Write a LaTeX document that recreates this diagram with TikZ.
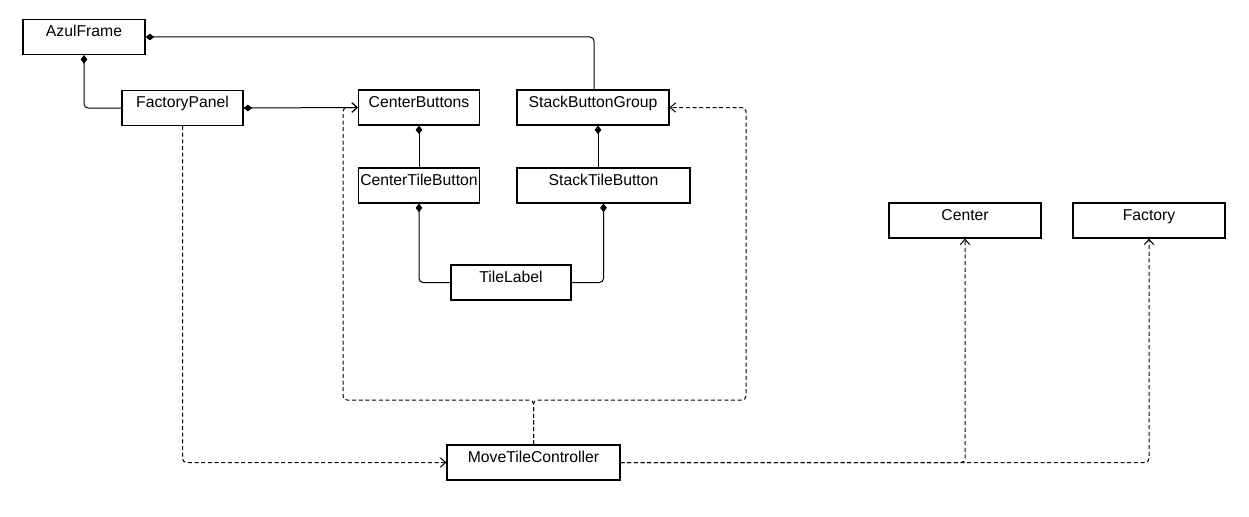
\documentclass[tikz,border=0pt]{standalone}
\usepackage{fontspec}
\setmainfont{Liberation Sans}
\usetikzlibrary{arrows.meta}

\begin{document}
\begin{tikzpicture}
  [x=0.75pt,y=-0.75pt,
   every node/.style={draw,line width=0.8pt,rectangle,inner sep=0pt,
     minimum height=26.25pt,text height=13pt,text depth=13.25pt,
     font=\fontsize{11.8}{13}\selectfont},
   comp/.style={line width=0.75pt,rounded corners=3pt,{Diamond[length=6.5pt,width=5pt]}-},
   dep/.style={line width=0.75pt,densely dashed,rounded corners=3pt,-{Straight Barb[length=4pt,width=7pt]}}]
  \useasboundingbox (0,0) rectangle (1249,517);

  \node[minimum width=91.5pt] (azul) at (84,37) {AzulFrame};
  \node[minimum width=90.75pt] (fpanel) at (182.5,108) {FactoryPanel};
  \node[minimum width=90.75pt] (cbuttons) at (419,107.5) {CenterButtons};
  \node[minimum width=114pt] (sbgroup) at (593,107.5) {StackButtonGroup};
  \node[minimum width=90.75pt] (ctile) at (419,185.5) {CenterTileButton};
  \node[minimum width=129.75pt] (stile) at (603.5,185.5) {StackTileButton};
  \node[minimum width=90pt] (tlabel) at (511,282.5) {TileLabel};
  \node[minimum width=129.75pt] (mtc) at (533.5,462.5) {MoveTileController};
  \node[minimum width=114pt] (center) at (965,220.5) {Center};
  \node[minimum width=114pt] (factory) at (1149,220.5) {Factory};

  \coordinate (split) at (533.5,400);
  \coordinate (lft) at (343,400);
  \coordinate (rgt) at (746,400);

  \draw[comp] (azul.south) |- (fpanel.west);
  \draw[comp] (azul.east) -| ([xshift=0.75pt]sbgroup.north);
  \draw[comp,{Diamond[length=6.5pt,width=5pt]}-{Straight Barb[length=4pt,width=7pt]}] (fpanel.east) -- (cbuttons.west);
  \draw[comp] (cbuttons.south) -- (ctile.north);
  \draw[comp] ([xshift=3.75pt]sbgroup.south) -- ([xshift=3.75pt]sbgroup.south |- stile.north);
  \draw[comp] (ctile.south) |- (tlabel.west);
  \draw[comp] (stile.south) |- (tlabel.east);

  \draw[dep] (fpanel.south) |- (mtc.west);
  \draw[dep] (mtc.north) -- (split) -- (lft) |- (cbuttons.west);
  \draw[dep] (mtc.north) -- (split) -- (rgt) |- (sbgroup.east);
  \foreach \to in {center,factory}
    \draw[dep] (mtc.east) -| (\to.south);

\end{tikzpicture}
\end{document}
